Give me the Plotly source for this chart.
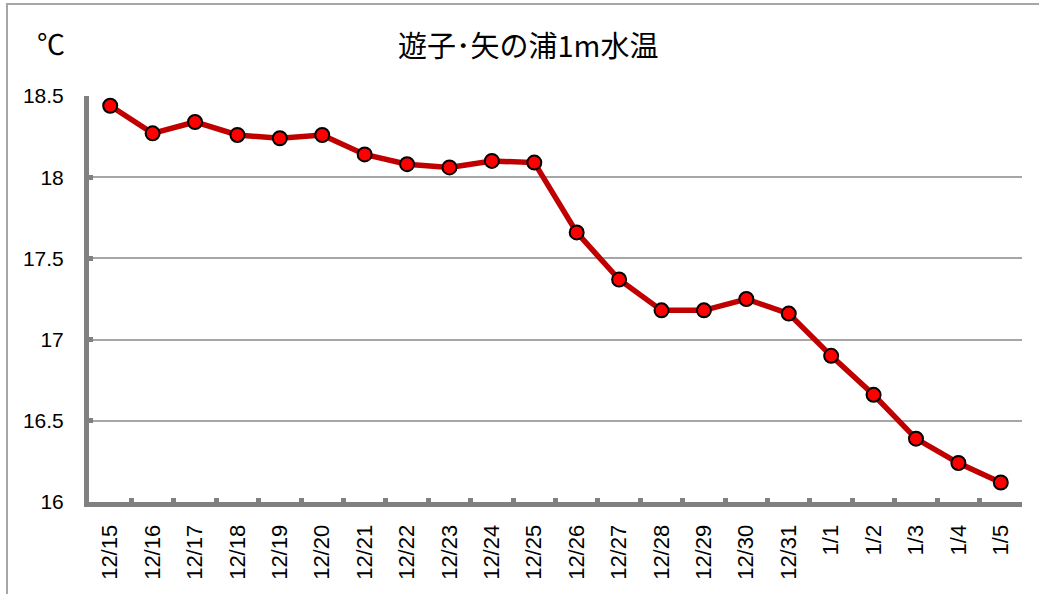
import plotly.graph_objects as go

dates = ["12/15", "12/16", "12/17", "12/18", "12/19", "12/20", "12/21", "12/22",
         "12/23", "12/24", "12/25", "12/26", "12/27", "12/28", "12/29", "12/30",
         "12/31", "1/1", "1/2", "1/3", "1/4", "1/5"]
temps = [18.44, 18.27, 18.34, 18.26, 18.24, 18.26, 18.14, 18.08,
         18.06, 18.10, 18.09, 17.66, 17.37, 17.18, 17.18, 17.25,
         17.16, 16.90, 16.66, 16.39, 16.24, 16.12]
y_ticks = [16, 16.5, 17, 17.5, 18, 18.5]
y_tick_text = ["16", "16.5", "17", "17.5", "18", "18.5"]

title_text = "遊子･矢の浦1m水温"
unit_text = "℃"

fig = go.Figure()
fig.add_trace(go.Scatter(
    x=dates, y=temps, mode="lines+markers",
    line=dict(color="#c00000", width=5.5),
    marker=dict(size=14, color="#ff0000", line=dict(color="#000000", width=2)),
    showlegend=False,
))

L, R, T, B = 89, 17, 96, 92
W, H = 1039, 594
pw, ph = W - L - R, H - T - B

fig.update_layout(
    width=W, height=H,
    margin=dict(l=L, r=R, t=T, b=B),
    paper_bgcolor="#ffffff", plot_bgcolor="#ffffff",
    xaxis=dict(
        type="category", tickson="boundaries", ticks="inside", ticklen=4,
        tickwidth=5, tickcolor="#808080", showline=True, linecolor="#808080",
        linewidth=5, showgrid=False, tickangle=-90,
        tickfont=dict(family="Liberation Sans, Arial, sans-serif", size=22, color="#000000"),
        ticklabelstandoff=9,
        range=[-0.5, len(dates) - 0.5], fixedrange=True,
    ),
    yaxis=dict(
        range=[16, 18.5], tickvals=y_ticks, ticktext=y_tick_text,
        ticks="inside", ticklen=4, tickwidth=5, tickcolor="#808080",
        showline=True, linecolor="#808080", linewidth=5,
        showgrid=True, gridcolor="#a6a6a6", gridwidth=2,
        tickfont=dict(family="Liberation Sans, Arial, sans-serif", size=21, color="#000000"),
        ticklabelstandoff=16, zeroline=False, fixedrange=True,
    ),
    shapes=[dict(
        type="rect", xref="paper", yref="paper",
        x0=(7 - L) / pw, x1=1.2, y0=-0.6, y1=(H - B - 4) / ph,
        line=dict(color="#a6a6a6", width=2), fillcolor="rgba(0,0,0,0)", layer="below",
    )],
    annotations=[
        dict(text=title_text, xref="paper", yref="paper",
             x=(528 - L) / pw, y=(H - B - 44) / ph, xanchor="center", yanchor="middle",
             showarrow=False,
             font=dict(family="Noto Sans CJK JP", size=29, color="#000000")),
        dict(text=unit_text, xref="paper", yref="paper",
             x=(51 - L) / pw, y=(H - B - 43) / ph, xanchor="center", yanchor="middle",
             showarrow=False,
             font=dict(family="Noto Sans CJK JP", size=28, color="#000000")),
    ],
)

fig.write_html("out.html", config={"displayModeBar": False},
               post_script="document.body.style.margin='0';")
